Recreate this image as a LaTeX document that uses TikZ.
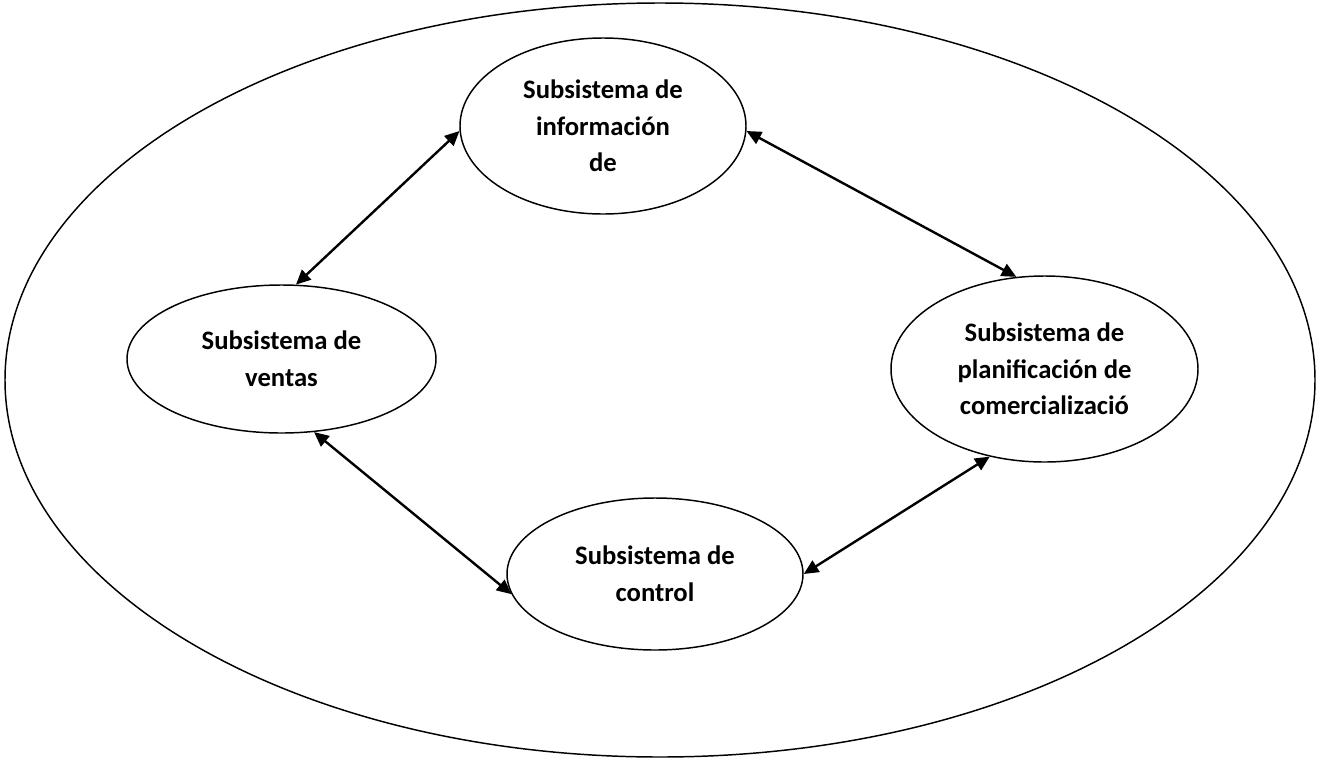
\documentclass[tikz,border=0pt]{standalone}
\usepackage{fontspec}
\setmainfont{Carlito}
\usetikzlibrary{shapes.geometric,arrows.meta}
\begin{document}
\begin{tikzpicture}[x=0.75pt,y=-0.75pt,
  sysbox/.style={ellipse,draw,line width=1.1pt,inner sep=0pt,align=center,
    font=\fontsize{20}{27.5}\selectfont\bfseries},
  link/.style={line width=1.8pt,{Triangle[length=11pt,width=10pt]}-{Triangle[length=11pt,width=10pt]}}]
\useasboundingbox (0,0) rectangle (1318,761);
% enclosing system
\node[ellipse,draw,line width=1.1pt,minimum width=1310*0.75pt,minimum height=754*0.75pt] (outer) at (660,380) {};
% subsystems
\node[sysbox,minimum width=286*0.75pt,minimum height=176*0.75pt] (info) at (603,126)
  {Subsistema de\\información\\de};
\node[sysbox,minimum width=309*0.75pt,minimum height=148*0.75pt] (ventas) at (281.5,359)
  {Subsistema de\\ventas};
\node[sysbox,minimum width=307*0.75pt,minimum height=186*0.75pt] (plan) at (1044.5,369)
  {Subsistema de\\planificación de\\comercializació};
\node[sysbox,minimum width=296*0.75pt,minimum height=152*0.75pt] (control) at (655,574)
  {Subsistema de\\control};
% relations
\draw[link] (ventas.79.7) -- (info.182.4);
\draw[link] (info.358.8) -- (plan.107.4);
\draw[link] (ventas.294.7) -- (control.188.8);
\draw[link] (plan.238.5) -- (control.0.4);
\end{tikzpicture}
\end{document}
